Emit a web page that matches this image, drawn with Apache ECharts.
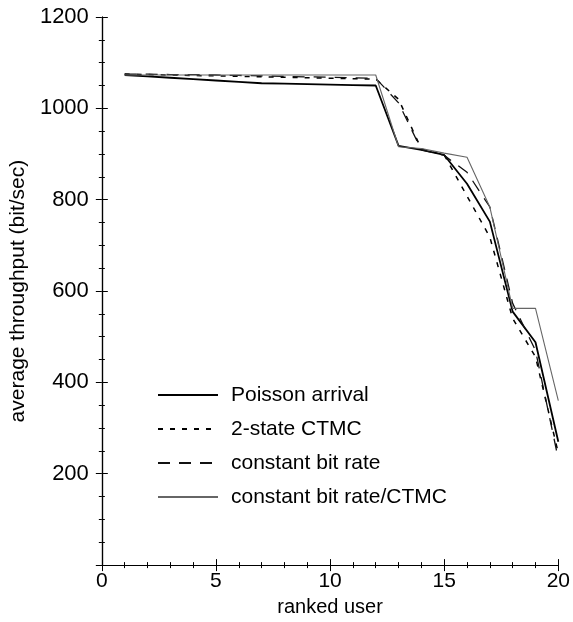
<!DOCTYPE html>
<html>
<head>
<meta charset="utf-8">
<script src="https://cdn.jsdelivr.net/npm/echarts@6/dist/echarts.min.js"></script>
<style>
  html, body { margin: 0; padding: 0; background: #fff; }
  #chart { width: 573px; height: 622px; }
</style>
</head>
<body>
<div id="chart"></div>
<script>
// ranked users on the x axis
const users = [1, 2, 3, 4, 5, 6, 7, 8, 9, 10, 11, 12, 13, 14, 15, 16, 17, 18, 19, 20];

// average throughput (bit/sec)
const poisson = [1073, 1070, 1067, 1064, 1061, 1058, 1055, 1054, 1053, 1052, 1051, 1050, 918, 909, 898, 835, 752, 555, 488, 270];
const ctmc2 = [1075, 1074, 1073, 1072, 1071, 1070, 1069, 1068, 1067, 1066, 1065, 1064, 1020, 911, 898, 808, 718, 540, 456, 245];
const cbr = [1075, 1075, 1074, 1074, 1073, 1072, 1071, 1070, 1069, 1068, 1067, 1066, 1012, 909, 897, 860, 784, 573, 470, 232];
const cbrCtmc = [1073, 1073, 1073, 1073, 1073, 1073, 1073, 1073, 1073, 1073, 1073, 1073, 916, 912, 902, 893, 784, 562, 562, 360];

const seriesNames = ["Poisson arrival", "2-state CTMC", "constant bit rate", "constant bit rate/CTMC"];

function pairs(vals) {
  return users.map((u, i) => [u, vals[i]]);
}

const font = "Liberation Sans, Arial, sans-serif";

var myChart = echarts.init(document.getElementById("chart"));
var option;

const tickStyle = { color: "#000", width: 1 };

option = {
  animation: false,
  textStyle: { fontFamily: font, color: "#000" },
  grid: {
    left: 100,
    right: 11,
    top: 17,
    bottom: 56,
  },
  legend: {
    left: 152,
    top: 379,
    orient: "vertical",
    itemWidth: 60,
    itemHeight: 14,
    itemGap: 12,
    data: seriesNames,
    itemStyle: { opacity: 0, color: "transparent", borderColor: "transparent", borderWidth: 0 },
    textStyle: {
      fontFamily: font,
      fontSize: 21,
      color: "#000",
      lineHeight: 22,
      padding: [0, 0, 0, 8],
    },
  },
  xAxis: [
    {
      type: "value",
      min: 0,
      max: 20,
      interval: 5,
      name: "ranked user",
      nameLocation: "middle",
      nameGap: 30,
      nameTextStyle: { fontSize: 20, color: "#000", fontFamily: font },
      axisLine: { lineStyle: { color: "#000", width: 1.2 } },
      axisTick: { inside: true, length: 6, lineStyle: tickStyle },
      minorTick: { show: true, splitNumber: 5, length: 3, lineStyle: tickStyle },
      axisLabel: { fontSize: 21, color: "#000", margin: 6, fontFamily: font },
      splitLine: { show: false },
    },
    {
      type: "value",
      position: "top",
      min: 0,
      max: 20,
      interval: 5,
      axisLine: { lineStyle: { color: "#000", width: 1.2 } },
      axisTick: { inside: true, length: 6, lineStyle: tickStyle },
      minorTick: { show: true, splitNumber: 5, length: 3, lineStyle: tickStyle },
      axisLabel: { show: false },
      splitLine: { show: false },
    },
  ],
  yAxis: [
    {
      type: "value",
      min: 0,
      max: 1200,
      interval: 200,
      name: "average throughput (bit/sec)",
      nameLocation: "middle",
      nameGap: 64,
      nameTextStyle: { fontSize: 21, color: "#000", fontFamily: font },
      axisLine: { show: true, lineStyle: { color: "#000", width: 1.2 } },
      axisTick: { show: true, inside: true, length: 6, lineStyle: tickStyle },
      minorTick: { show: true, splitNumber: 4, length: 3, lineStyle: tickStyle },
      axisLabel: {
        fontSize: 22,
        color: "#000",
        margin: 13,
        fontFamily: font,
        formatter: (v) => (v === 0 ? "" : v),
      },
      splitLine: { show: false },
    },
    {
      type: "value",
      position: "right",
      min: 0,
      max: 1200,
      interval: 200,
      axisLine: { show: true, lineStyle: { color: "#000", width: 1.2 } },
      axisTick: { show: true, inside: true, length: 6, lineStyle: tickStyle },
      minorTick: { show: true, splitNumber: 4, length: 3, lineStyle: tickStyle },
      axisLabel: { show: false },
      splitLine: { show: false },
    },
  ],
  series: [
    {
      name: seriesNames[0],
      type: "line",
      symbol: "none",
      lineStyle: { color: "#000", width: 1.8, type: "solid" },
      itemStyle: { color: "#000" },
      data: pairs(poisson),
    },
    {
      name: seriesNames[1],
      type: "line",
      symbol: "none",
      lineStyle: { color: "#000", width: 1.5, type: [5, 7] },
      itemStyle: { color: "#000" },
      data: pairs(ctmc2),
    },
    {
      name: seriesNames[2],
      type: "line",
      symbol: "none",
      lineStyle: { color: "#111", width: 1.3, type: [12, 9] },
      itemStyle: { color: "#111" },
      data: pairs(cbr),
    },
    {
      name: seriesNames[3],
      type: "line",
      symbol: "none",
      lineStyle: { color: "#666", width: 1.1, type: "solid" },
      itemStyle: { color: "#666" },
      data: pairs(cbrCtmc),
    },
  ],
};

option && myChart.setOption(option);
</script>
</body>
</html>
